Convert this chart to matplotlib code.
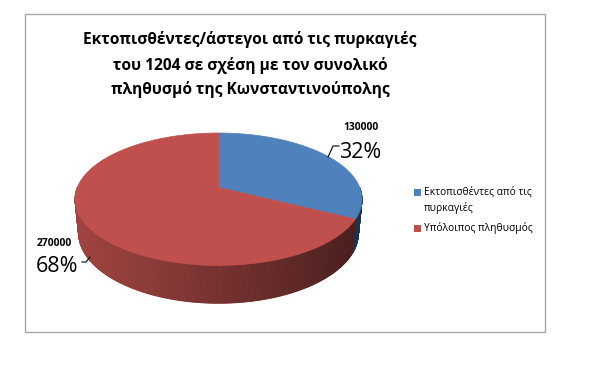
import numpy as np
import matplotlib
matplotlib.use("Agg")
import matplotlib.pyplot as plt
from matplotlib.patches import Polygon, Rectangle

# -------------------------------
# Data
# -------------------------------
legend_lines = [["Εκτοπισθέντες από τις", "πυρκαγιές"], ["Υπόλοιπος πληθυσμός"]]
values = [130000, 270000]
colors = ["#4F81BD", "#C0504D"]
title_lines = ["Εκτοπισθέντες/άστεγοι από τις πυρκαγιές",
               "του 1204 σε σχέση με τον συνολικό",
               "πληθυσμό της Κωνσταντινούπολης"]

plt.rcParams["font.family"] = ["Open Sans", "DejaVu Sans"]

# -------------------------------
# Figure in pixel coordinates
# -------------------------------
fig = plt.figure(figsize=(5.96, 3.70), dpi=100)
ax = fig.add_axes([0, 0, 1, 1])
ax.set_xlim(0, 596)
ax.set_ylim(370, 0)
ax.axis("off")

# chart border
ax.add_patch(Rectangle((25, 14), 520, 318, fill=False,
                       edgecolor="#A6A6A6", linewidth=1.0))

# -------------------------------
# 3D pie projection
# -------------------------------
tilt = np.radians(27)
dist = 5.0
height = 0.27


def proj(r, t, y):
    X = r * np.cos(t)
    Z = r * np.sin(t)
    yv = y * np.cos(tilt) + Z * np.sin(tilt)
    d = -y * np.sin(tilt) + Z * np.cos(tilt)
    return X / (dist + d), yv / (dist + d)


tt = np.linspace(0, 2 * np.pi, 721)
sx, sy = proj(1, tt, 0)
left, width, top = 75, 287, 133
scale = width / (sx.max() - sx.min())


def to_px(r, t, y):
    a, b = proj(r, t, y)
    return left + (a - sx.min()) * scale, top + (sy.max() - b) * scale


def shade(color, f):
    rgb = np.array(matplotlib.colors.to_rgb(color))
    return tuple(rgb * f)


total = sum(values)
fracs = [v / total for v in values]
starts = []
ang = np.pi / 2
for f in fracs:
    starts.append((ang, ang - f * 2 * np.pi))
    ang -= f * 2 * np.pi

# sides (front half only), darker to the right
for (a0, a1), c in zip(starts, colors):
    ts = np.linspace(a0, a1, 400)
    ts = np.mod(ts + np.pi, 2 * np.pi) - np.pi
    for i in range(len(ts) - 1):
        t0, t1 = ts[i], ts[i + 1]
        if t0 > 0 or t1 > 0 or abs(t1 - t0) > 1:
            continue
        x0, y0 = to_px(1, t0, 0)
        x1, y1 = to_px(1, t1, 0)
        x2, y2 = to_px(1, t1, -height)
        x3, y3 = to_px(1, t0, -height)
        k = ((x0 + x1) / 2 - left) / width
        col = shade(c, 0.84 - 0.46 * k)
        ax.add_patch(Polygon([(x0, y0), (x1, y1), (x2, y2), (x3, y3)],
                             facecolor=col, edgecolor=col, linewidth=0.6))

# top surface
cx, cy = to_px(0, 0, 0)
for (a0, a1), c in zip(starts, colors):
    ts = np.linspace(a0, a1, 300)
    px, py = to_px(1, ts, 0)
    pts = [(cx, cy)] + list(zip(px, py))
    ax.add_patch(Polygon(pts, facecolor=c, edgecolor=c, linewidth=0.5))

# -------------------------------
# Title
# -------------------------------
for i, line in enumerate(title_lines):
    ax.text(250, 40 + 25 * i, line, ha="center", va="center", fontsize=11.2,
            fontweight="bold", color="black")

# -------------------------------
# Data labels
# -------------------------------
pcts = [f"{f * 100:.0f}%" for f in fracs]
ax.text(343, 128, str(values[0]), fontsize=7.4, fontweight="bold",
        ha="left", va="center")
ax.text(339, 152, pcts[0], fontsize=15.5, ha="left", va="center")
ax.plot([328, 333, 339], [157, 146, 146], color="black", lw=0.8)

ax.text(37, 244, str(values[1]), fontsize=7.4, fontweight="bold",
        ha="left", va="center")
ax.text(36, 267, pcts[1], fontsize=15.5, ha="left", va="center")
ax.plot([82, 86, 90], [262, 262, 257], color="black", lw=0.8)

# -------------------------------
# Legend
# -------------------------------
leg_y = [192, 228]
for lines, c, y in zip(legend_lines, colors, leg_y):
    ax.add_patch(Rectangle((414, y - 3.5), 7, 7, facecolor=c, edgecolor="none"))
    for j, line in enumerate(lines):
        ax.text(424, y + 16 * j, line, fontsize=7.4, ha="left", va="center")

fig.savefig("out.png", dpi=100)
